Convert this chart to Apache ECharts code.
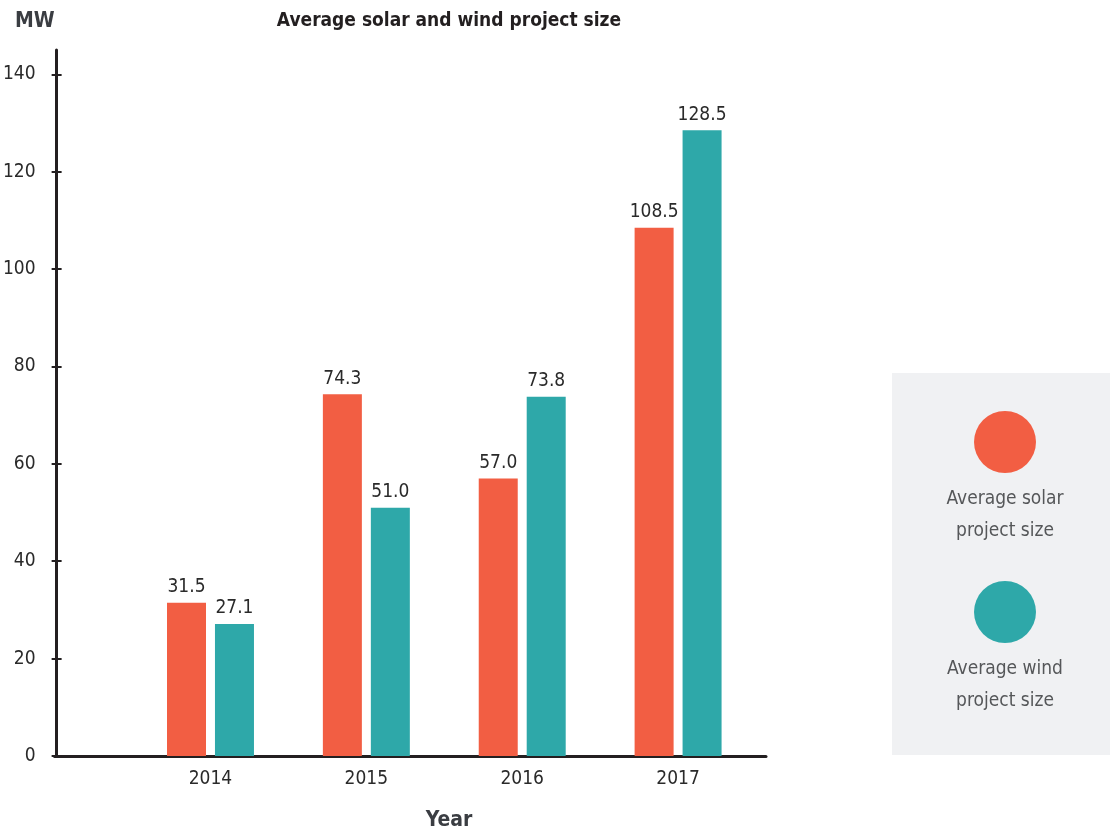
<!DOCTYPE html>
<html><head><meta charset="utf-8">
<script src="https://cdn.jsdelivr.net/npm/echarts@6/dist/echarts.min.js"></script>
<style>html,body{margin:0;padding:0;background:#fff}#c{width:1110px;height:832px}</style>
</head><body><div id="c"></div>
<script>
const years = ['2014', '2015', '2016', '2017'];
const seriesNames = ['Average solar project size', 'Average wind project size'];
const legendLines = [['Average solar', 'project size'], ['Average wind', 'project size']];
const solar = [31.5, 74.3, 57.0, 108.5];
const wind = [27.1, 51.0, 73.8, 128.5];
const yTicks = [0, 20, 40, 60, 80, 100, 120, 140];
const titleText = 'Average solar and wind project size';
const yUnit = 'MW';
const xName = 'Year';

const FONT = '"Liberation Sans Narrow", "DejaVu Sans Condensed", sans-serif';
const colors = ['#F25E43', '#2EA8A9'];
const pos = years.map((y, i) => i + 1);

const chart = echarts.init(document.getElementById('c'), null, {renderer: 'canvas'});
const lab = {show: true, position: 'top', distance: 6, color: '#2a2a2a', fontFamily: FONT, fontSize: 19,
  formatter: p => p.value[1].toFixed(1)};

const yBase = {type: 'value', min: 0, max: 145, position: 'left', offset: -2, splitLine: {show: false}};

chart.setOption({
  animation: false,
  title: [
    {text: titleText, left: 444, top: 7, textAlign: 'center', textStyle: {fontFamily: FONT, fontWeight: 'bold', fontSize: 19, color: '#231F20'}},
    {text: yUnit, left: 10, top: 6, textStyle: {fontFamily: FONT, fontWeight: 'bold', fontSize: 21, color: '#3a3d42'}},
    {text: xName, left: 444, top: 805, textAlign: 'center', textStyle: {fontFamily: FONT, fontWeight: 'bold', fontSize: 21, color: '#3a3d42'}}
  ],
  grid: {left: 54, right: 344, top: 50, bottom: 76, containLabel: false},
  xAxis: {
    type: 'value', min: 0, max: 4.564,
    splitLine: {show: false},
    axisLine: {show: true, lineStyle: {color: '#231F20', width: 3}},
    axisTick: {show: false},
    axisLabel: {customValues: pos, formatter: v => years[Math.round(v) - 1] || '', margin: 14,
      color: '#2a2a2a', fontFamily: FONT, fontSize: 19}
  },
  yAxis: [
    Object.assign({}, yBase, {
      axisLine: {show: true, lineStyle: {color: '#231F20', width: 3}},
      axisTick: {show: true, customValues: yTicks, length: 5, inside: false, lineStyle: {color: '#231F20', width: 2}},
      axisLabel: {customValues: yTicks, margin: 21, color: '#2a2a2a', fontFamily: FONT, fontSize: 19}
    }),
    Object.assign({}, yBase, {
      axisLine: {show: false},
      axisTick: {show: true, customValues: yTicks, length: 5, inside: true, lineStyle: {color: '#231F20', width: 2}},
      axisLabel: {show: false}
    })
  ],
  series: [
    {name: seriesNames[0], type: 'bar', data: pos.map((x, i) => [x, solar[i]]), barWidth: 39, barGap: '23%',
      itemStyle: {color: colors[0]}, label: lab},
    {name: seriesNames[1], type: 'bar', data: pos.map((x, i) => [x, wind[i]]), barWidth: 39, barGap: '23%',
      itemStyle: {color: colors[1]}, label: lab}
  ],
  graphic: [
    {type: 'rect', left: 892, top: 373, shape: {width: 218, height: 382}, style: {fill: '#F0F1F3'}, z: 0},
    {type: 'circle', shape: {cx: 1005, cy: 442, r: 31}, style: {fill: colors[0]}},
    {type: 'text', x: 1005, y: 499, style: {text: legendLines[0][0], fill: '#555759', font: '19px ' + FONT, textAlign: 'center', textVerticalAlign: 'middle'}},
    {type: 'text', x: 1005, y: 531, style: {text: legendLines[0][1], fill: '#555759', font: '19px ' + FONT, textAlign: 'center', textVerticalAlign: 'middle'}},
    {type: 'circle', shape: {cx: 1005, cy: 612, r: 31}, style: {fill: colors[1]}},
    {type: 'text', x: 1005, y: 669, style: {text: legendLines[1][0], fill: '#555759', font: '19px ' + FONT, textAlign: 'center', textVerticalAlign: 'middle'}},
    {type: 'text', x: 1005, y: 701, style: {text: legendLines[1][1], fill: '#555759', font: '19px ' + FONT, textAlign: 'center', textVerticalAlign: 'middle'}}
  ]
});
</script></body></html>
